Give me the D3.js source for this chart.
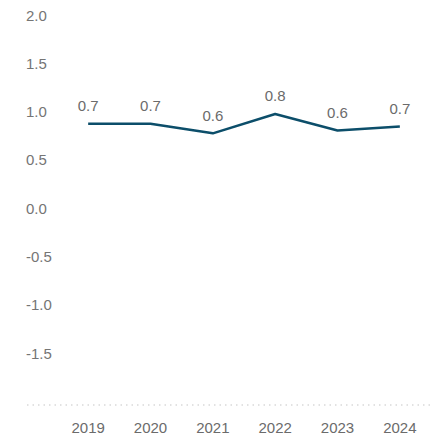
<!DOCTYPE html>
<html>
<head>
<meta charset="utf-8">
<script src="https://cdn.jsdelivr.net/npm/d3@7"></script>
<style>
  html, body { margin: 0; padding: 0; background: #fff; }
  svg { display: block; font-family: "Liberation Sans", Arial, Helvetica, sans-serif; }
</style>
</head>
<body>
<svg id="chart" width="441" height="440"></svg>
<script>
// Data
const years = ["2019", "2020", "2021", "2022", "2023", "2024"];
const values = [0.7, 0.7, 0.6, 0.8, 0.63, 0.67];
const valueLabels = ["0.7", "0.7", "0.6", "0.8", "0.6", "0.7"];
const yTicks = [2.0, 1.5, 1.0, 0.5, 0.0, -0.5, -1.0, -1.5];

const W = 441, H = 440;
const svg = d3.select("#chart");

const x = d3.scaleBand().domain(years).range([57, 431]);
const y = d3.scaleLinear().domain([-2, 2]).range([384.5, -1.9]);
const labelOffset = 17.2;
const axisY = 405;

// y-axis labels (left-aligned, no lines)
svg.append("g").selectAll("text")
  .data(yTicks)
  .join("text")
  .attr("x", 26)
  .attr("y", d => y(d) + labelOffset)
  .attr("dy", "0.35em")
  .attr("text-anchor", "start")
  .attr("fill", "#757575")
  .attr("font-size", 15)
  .text(d => d3.format(".1f")(d).replace("−", "-"));

// dotted baseline
svg.append("line")
  .attr("x1", 27).attr("x2", 433)
  .attr("y1", axisY).attr("y2", axisY)
  .attr("stroke", "#d9d9d9")
  .attr("stroke-width", 1.5)
  .attr("stroke-dasharray", "1.5,4");

// x-axis labels
const xAxis = d3.axisBottom(x).tickSize(0).tickPadding(0);
const gx = svg.append("g").attr("transform", `translate(0,${axisY})`).call(xAxis);
gx.select(".domain").remove();
gx.selectAll("text")
  .attr("y", 23)
  .attr("dy", "0.35em")
  .attr("fill", "#6b6b6b")
  .attr("font-size", 15)
  .attr("font-family", "'Liberation Sans', Arial, sans-serif");

// line
const cx = d => x(d) + x.bandwidth() / 2;
const line = d3.line()
  .x((d, i) => cx(years[i]))
  .y(d => y(d));

svg.append("path")
  .datum(values)
  .attr("d", line)
  .attr("fill", "none")
  .attr("stroke", "#0c4e6a")
  .attr("stroke-width", 2.5)
  .attr("stroke-linejoin", "round");

// data labels
svg.append("g").selectAll("text")
  .data(values)
  .join("text")
  .attr("x", (d, i) => cx(years[i]))
  .attr("y", d => y(d) - 18)
  .attr("dy", "0.35em")
  .attr("text-anchor", "middle")
  .attr("fill", "#6b6b6b")
  .attr("font-size", 15)
  .text((d, i) => valueLabels[i]);
</script>
</body>
</html>
